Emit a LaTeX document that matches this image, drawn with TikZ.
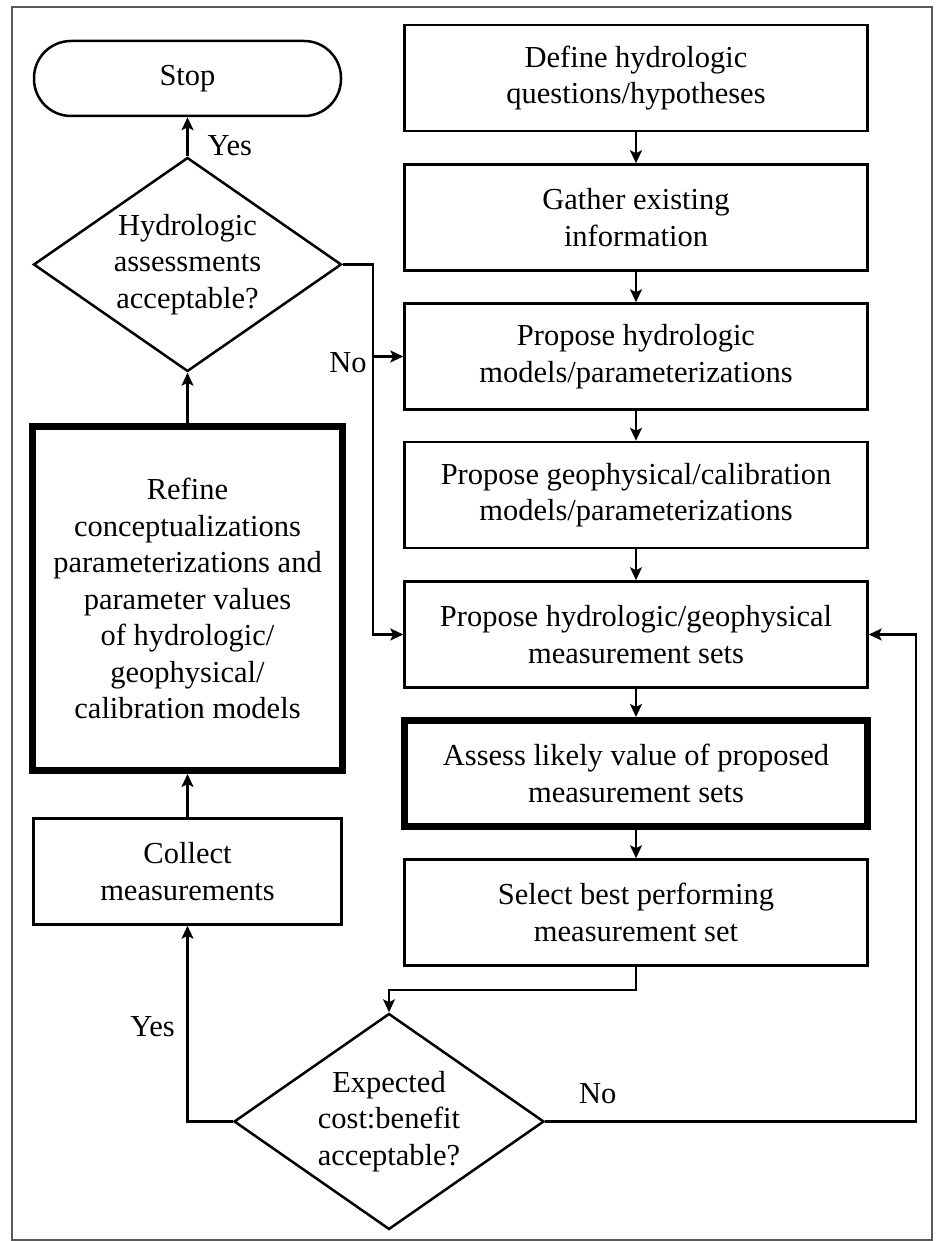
\documentclass[tikz,border=0pt]{standalone}
\usepackage{fontspec}
\setmainfont{Liberation Serif}
\usetikzlibrary{arrows.meta,shapes.geometric}
\tikzset{
    procbox/.style={draw, line width=2.5pt, minimum width=463pt, minimum height=106pt,
        align=center, inner sep=2pt}, % ordinary step
    thickbox/.style={procbox, line width=7pt}, % highlighted step
    decision/.style={draw, diamond, line width=2.5pt, aspect=1.44, inner sep=0pt,
        align=center, minimum width=308pt, minimum height=214pt},
    terminal/.style={draw, line width=2.5pt, rounded corners=37pt,
        minimum width=307pt, minimum height=75pt},
    conn/.style={line width=2.2pt, -{Stealth[length=13pt,width=12pt,inset=3pt]}},
    lbl/.style={inner sep=0pt},
    frameline/.style={draw=black!65, line width=1.2pt},
}
\begin{document}
\begin{tikzpicture}[x=1pt, y=1pt, font=\fontsize{30.5}{36.5}\selectfont]
    \useasboundingbox (0,0) rectangle (935,1241);
    \draw[frameline] (12,1) rectangle (932,1234);

    % left column
    \node[terminal] (stop) at (187.5,1162.5) {Stop};
    \node[decision] (hacc) at (187.5,976.5) {Hydrologic\\assessments\\acceptable?};
    \node[thickbox, minimum width=310pt, minimum height=344pt] (refine) at (187.5,642.5)
        {Refine\\conceptualizations\\parameterizations and\\parameter values\\of hydrologic/\\geophysical/\\calibration models};
    \node[procbox, minimum width=308pt] (collect) at (187.5,369.5) {Collect\\measurements};
    \node[decision, minimum width=310pt, minimum height=216pt] (cbacc) at (389,119.5)
        {Expected\\cost:benefit\\acceptable?};

    % right column
    \node[procbox] (define) at (636,1163) {Define hydrologic\\questions/hypotheses};
    \node[procbox] (gather) at (636,1023.5) {Gather existing\\information};
    \node[procbox] (hmod) at (636,884.5) {Propose hydrologic\\models/parameterizations};
    \node[procbox] (gmod) at (636,746) {Propose geophysical/calibration\\models/parameterizations};
    \node[procbox] (mset) at (636,606.5) {Propose hydrologic/geophysical\\measurement sets};
    \node[thickbox] (assess) at (636,467.5) {Assess likely value of proposed\\measurement sets};
    \node[procbox] (select) at (636,328.5) {Select best performing\\measurement set};

    \foreach \a/\b in {define/gather, gather/hmod, hmod/gmod, gmod/mset, mset/assess, assess/select}
        \draw[conn] (\a) -- (\b);

    \draw[conn] (select.south) -- ++(0,-23) -| (cbacc.north);
    \draw[conn] (cbacc.west) -| (collect.south);
    \draw[conn] (cbacc.east) -- ++(371,0) |- (mset.east);
    \draw[conn] (collect) -- (refine);
    \draw[conn] (refine) -- (hacc);
    \draw[conn] (hacc) -- (stop);
    \draw[conn] (hacc.east) -- ++(30,0) coordinate (bend) |- (mset.west);
    \draw[conn] (bend |- hmod.west) -- (hmod.west);

    % branch labels
    \node[lbl, anchor=base west, xshift=20pt, yshift=1pt] (yestop) at (hacc.north) {Yes};
    \node[lbl, anchor=base east, xshift=-6pt, yshift=-16.5pt] (notop) at (bend |- hmod.west) {No};
    \node[lbl, anchor=base east] (yesbot) at (175,204) {Yes};
    \node[lbl, anchor=base west] (nobot) at (579,137) {No};
\end{tikzpicture}
\end{document}
